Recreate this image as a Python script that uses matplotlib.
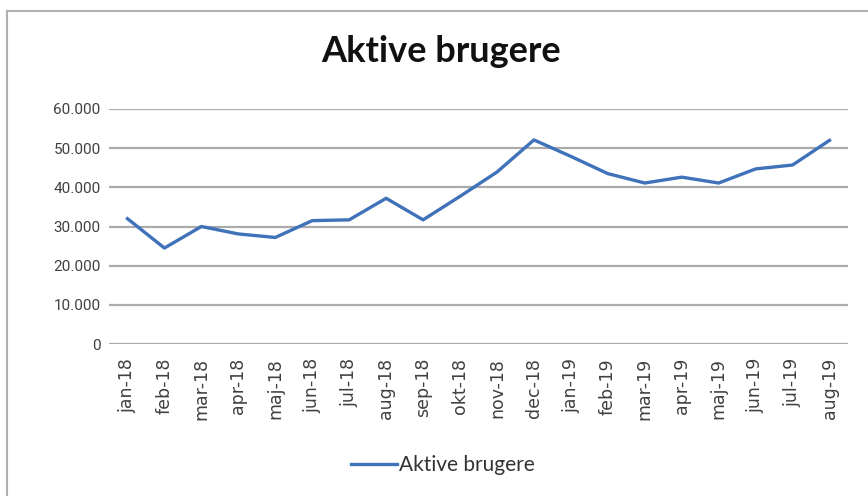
import matplotlib.pyplot as plt
from matplotlib.lines import Line2D
from matplotlib.ticker import FuncFormatter

months = ['jan-18', 'feb-18', 'mar-18', 'apr-18', 'maj-18', 'jun-18', 'jul-18',
          'aug-18', 'sep-18', 'okt-18', 'nov-18', 'dec-18', 'jan-19', 'feb-19',
          'mar-19', 'apr-19', 'maj-19', 'jun-19', 'jul-19', 'aug-19']
active_users = [32000, 24500, 30000, 28100, 27200, 31500, 31700, 37200, 31700, 37700,
                43900, 52100, 47900, 43500, 41100, 42600, 41100, 44700, 45700, 52000]
y_ticks = [0, 10000, 20000, 30000, 40000, 50000, 60000]

fig = plt.figure(figsize=(8.68, 4.96), dpi=100)
ax = fig.add_axes([109 / 868, 1 - 344 / 496, (848 - 109) / 868, (344 - 109) / 496])

x = list(range(len(months)))
ax.plot(x, active_users, color='#3F72B9', linewidth=2.4, label='Aktive brugere',
        solid_joinstyle='round')

ax.set_xlim(-0.5, len(months) - 0.5)
ax.set_ylim(0, 60000)
ax.set_yticks(y_ticks)
ax.yaxis.set_major_formatter(FuncFormatter(lambda v, p: f'{int(v):,}'.replace(',', '.')))
ax.set_xticks(x)
ax.set_xticklabels(months, rotation=90, fontsize=12.5, family='DejaVu Sans', color='#404040')
for lbl in ax.get_yticklabels():
    lbl.set_family('Roboto')
    lbl.set_fontsize(11)
    lbl.set_color('#404040')
ax.tick_params(axis='x', length=0, pad=10)
ax.tick_params(axis='y', length=0, pad=6)

ax.grid(axis='y', color='#ABABAB', linewidth=1.6)
ax.set_axisbelow(True)
for s in ax.spines.values():
    s.set_visible(False)

fig.text(441 / 868, 1 - 52 / 496, 'Aktive brugere', ha='center', va='center',
         fontsize=26, fontweight='bold', family='Lato', color='#111111')

fig.legend(loc='center', bbox_to_anchor=(443 / 868, 1 - 465 / 496), frameon=False,
           prop={'family': 'Lato', 'size': 15}, handlelength=2.2, handletextpad=0.1,
           labelcolor='#333333')

# outer chart frame (top and left edges visible)
fig.add_artist(Line2D([7 / 868, 1], [1 - 10.5 / 496, 1 - 10.5 / 496],
                      transform=fig.transFigure, color='#B0B0B0', linewidth=1.5))
fig.add_artist(Line2D([7 / 868, 7 / 868], [0, 1 - 10.5 / 496],
                      transform=fig.transFigure, color='#B0B0B0', linewidth=1.5))

fig.savefig('out.png', dpi=100)
